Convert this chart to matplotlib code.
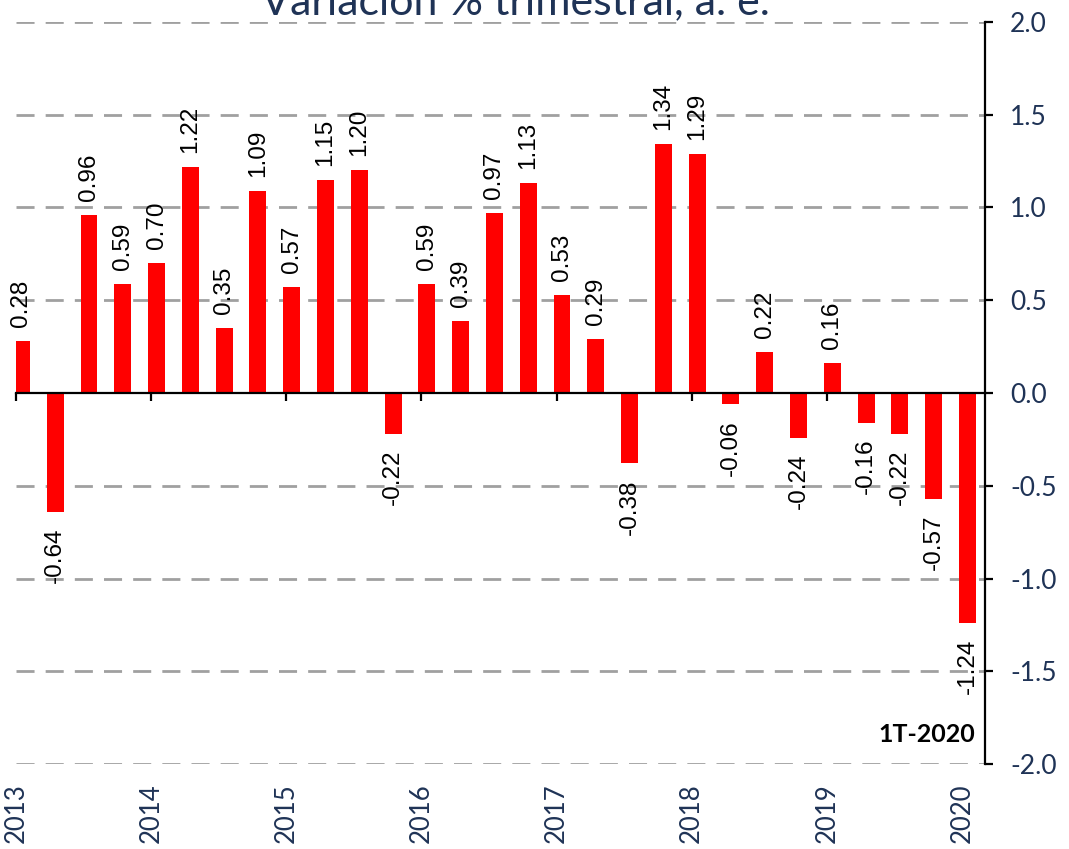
import matplotlib
matplotlib.use("Agg")
import matplotlib.pyplot as plt
import numpy as np

# Variación % trimestral, 1T-2013 .. 1T-2020
values = [0.28, -0.64, 0.96, 0.59,
          0.70, 1.22, 0.35, 1.09,
          0.57, 1.15, 1.20, -0.22,
          0.59, 0.39, 0.97, 1.13,
          0.53, 0.29, -0.38, 1.34,
          1.29, -0.06, 0.22, -0.24,
          0.16, -0.16, -0.22, -0.57,
          -1.24]
years = ["2013", "2014", "2015", "2016", "2017", "2018", "2019", "2020"]
yticks = [2.0, 1.5, 1.0, 0.5, 0.0, -0.5, -1.0, -1.5, -2.0]

navy = "#1F3356"

fig = plt.figure(figsize=(10.69, 8.49), dpi=100)
ax = fig.add_axes([0.015, 0.1001, 0.9064, 0.874])

x = np.arange(len(values))
ax.bar(x, values, width=0.5, color="#FF0000", zorder=3)

for xi, v in zip(x, values):
    off = 14 if v >= 0 else -16
    ax.annotate(f"{v:.2f}", (xi, v), xytext=(0, off), textcoords="offset pixels",
                rotation=90, ha="center", va="bottom" if v >= 0 else "top",
                fontsize=17.5, family="Liberation Sans", color="black")

ax.set_xlim(-0.16, 28.52)
ax.set_ylim(-2.0, 2.0)

# grid
for y in yticks:
    if y != 0:
        ax.axhline(y, color="#A0A0A0", lw=2, ls=(0, (6.5, 4)), zorder=1)

for s in ["left", "top"]:
    ax.spines[s].set_visible(False)
ax.spines["right"].set_linewidth(1.6)
ax.spines["bottom"].set_position(("data", 0))
ax.spines["bottom"].set_linewidth(1.6)
ax.spines["bottom"].set_zorder(4)

ax.yaxis.tick_right()
ax.set_yticks(yticks)
ax.set_yticklabels([f"{t:.1f}" for t in yticks])
ax.tick_params(axis="y", direction="out", length=6, width=1.6, pad=12,
               labelsize=19, labelcolor=navy)
for lab in ax.get_yticklabels():
    lab.set_family("Lato")

tick_pos = np.arange(0, len(values), 4) - 0.16
ax.set_xticks(tick_pos)
ax.set_xticklabels([])
ax.tick_params(axis="x", direction="out", length=6, width=1.6)

sec = ax.secondary_xaxis(location=0)
sec.set_xticks(tick_pos)
sec.set_xticklabels(years, rotation=90, fontsize=18.5, color=navy, family="Lato")
sec.tick_params(axis="x", length=0, pad=14)
sec.spines["bottom"].set_visible(False)

ax.text(0.99, 0.04, "1T-2020", transform=ax.transAxes, ha="right", va="center",
        fontsize=18, fontweight="bold", family="Lato", color="black")

fig.text(0.482, 0.9835, "Variación % trimestral, a. e.", ha="center", va="baseline",
         fontsize=31, family="Lato", color=navy)

fig.savefig("out.png", dpi=100)
